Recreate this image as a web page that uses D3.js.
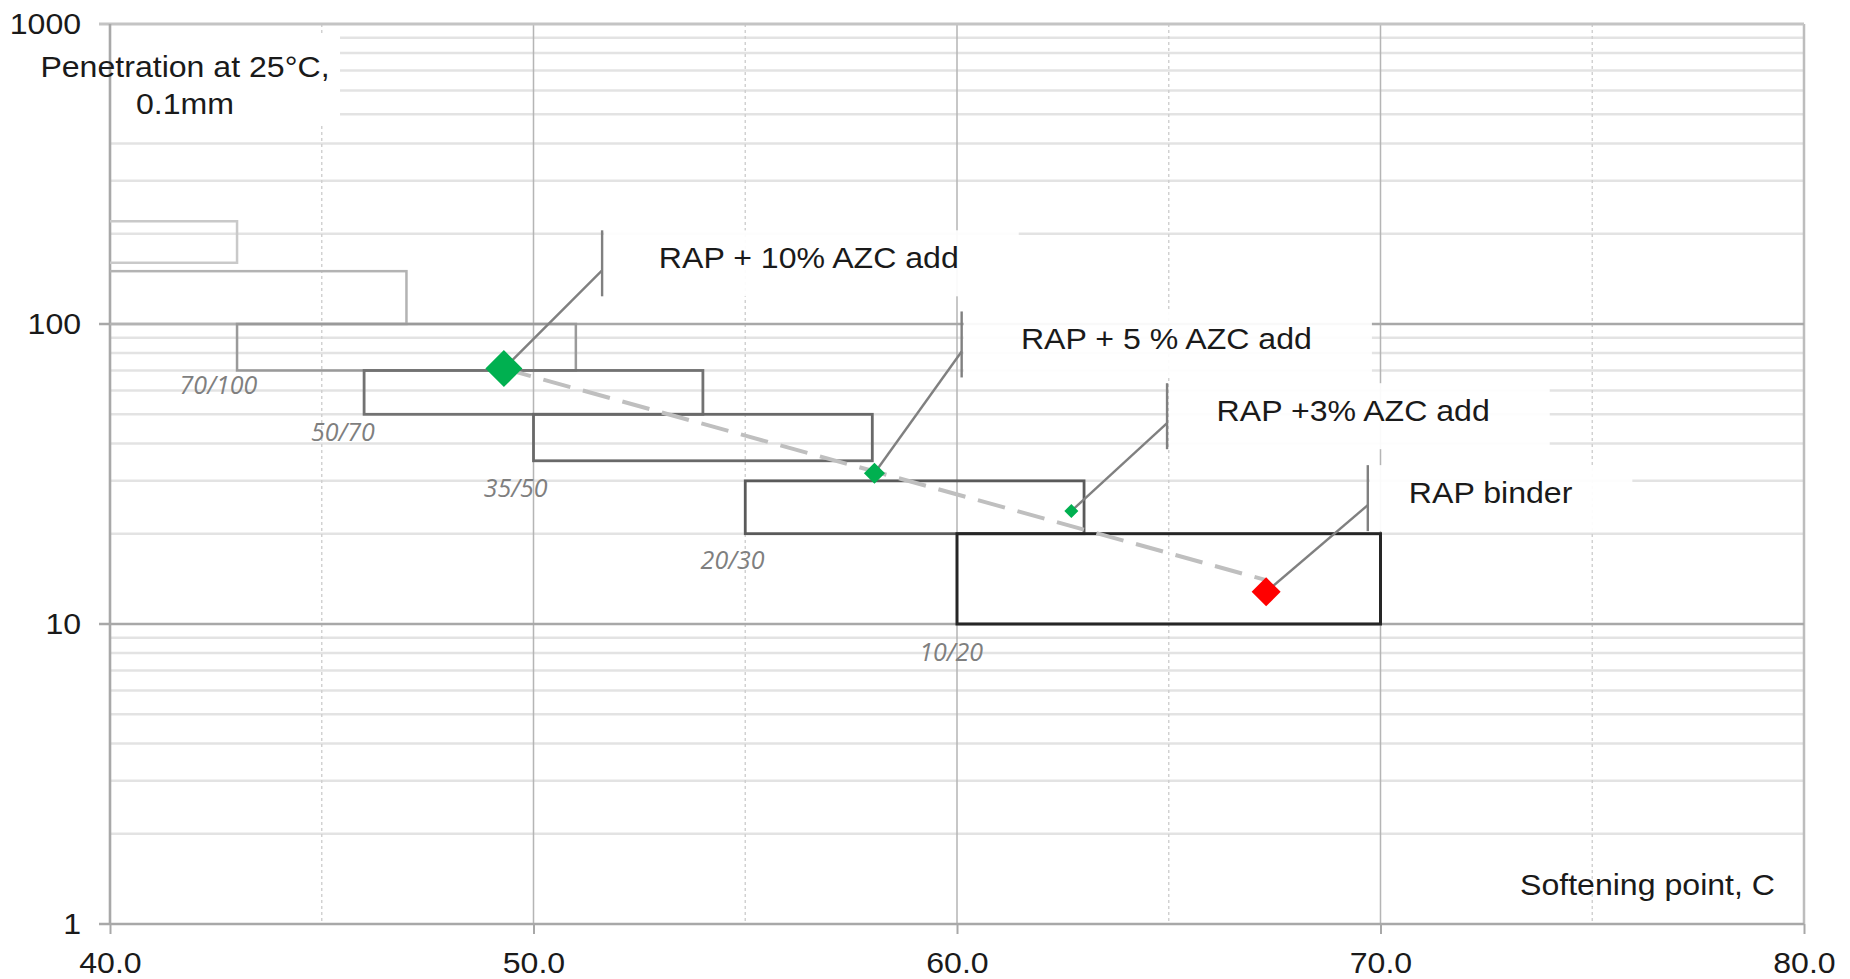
<!DOCTYPE html>
<html>
<head>
<meta charset="utf-8">
<script src="https://cdn.jsdelivr.net/npm/d3@7"></script>
<style>
  html, body { margin: 0; padding: 0; background: #ffffff; }
  svg { display: block; }
</style>
</head>
<body>
<svg id="chart" width="1850" height="979"></svg>
<script>
// Paving-grade bitumen windows (EN 12591): penetration range vs softening point range
const grades       = ["160/220", "100/150", "70/100", "50/70", "35/50", "20/30", "10/20"];
const gradePenLow  = [160, 100, 70, 50, 35, 20, 10];
const gradePenHigh = [220, 150, 100, 70, 50, 30, 20];
const gradeSpLow   = [35, 39, 43, 46, 50, 55, 60];
const gradeSpHigh  = [43, 47, 51, 54, 58, 63, 70];
// where each grade name sits (softening point, penetration)
const gradeLabelSp  = [null, null, 42.56, 45.5, 49.58, 54.7, 59.86];
const gradeLabelPen = [null, null, 63, 44, 28.7, 16.5, 8.1];

// Measured binders
const samples   = ["RAP + 10% AZC add", "RAP + 5 % AZC add", "RAP +3% AZC add", "RAP binder"];
const sampleSp  = [49.3, 58.05, 62.7, 67.3];
const samplePen = [71, 31.8, 23.8, 12.8];
// callout anchors for the sample names
const calloutSp     = [51.62, 60.11, 64.96, 69.70];
const calloutPen    = [151, 81, 46.7, 24.9];
const calloutTextSp = [52.96, 61.51, 66.13, 70.67];

// Trend from the 10% additive blend to the aged RAP binder
const trendSp  = [49.3, 67.3];
const trendPen = [71, 14];

// Axis ticks
const xTickValues = [40, 50, 60, 70, 80];
const yTickValues = [1, 10, 100, 1000];

// ---- styling ----
const gradeStroke = ["#c9c9c9", "#b3b3b3", "#9a9a9a", "#727272", "#696969", "#5a5a5a", "#262626"];
const gradeWidth  = [2.5, 2.5, 2.5, 2.8, 2.8, 2.8, 3];
const sampleFill  = ["#00b050", "#00b050", "#00b050", "#ff0000"];
const sampleDiag  = [37, 21, 14, 29];   // tip-to-tip marker size in px
const FONT = "'Liberation Sans', Arial, Helvetica, sans-serif";
const STRETCH = 1.07;

const svg = d3.select("#chart");
const W = 1850, H = 979;
const margin = { left: 110, right: 46, top: 24, bottom: 55 };

const x = d3.scaleLinear().domain([40, 80]).range([margin.left, W - margin.right]);
const y = d3.scaleLog().domain([1, 1000]).range([H - margin.bottom, margin.top]);

svg.append("rect").attr("width", W).attr("height", H).attr("fill", "#ffffff");

svg.append("defs").append("clipPath").attr("id", "plotClip")
  .append("rect")
  .attr("x", x(40)).attr("y", y(1000))
  .attr("width", x(80) - x(40)).attr("height", y(1) - y(1000));

// ---- gridlines ----
const grid = svg.append("g");
const yAll = y.ticks();
const isDecade = d => Math.abs(Math.log10(d) - Math.round(Math.log10(d))) < 1e-9;

grid.selectAll(".hminor").data(yAll.filter(d => !isDecade(d)))
  .join("line")
  .attr("x1", x(40)).attr("x2", x(80))
  .attr("y1", d => y(d)).attr("y2", d => y(d))
  .attr("stroke", "#e3e3e3").attr("stroke-width", 2.5);

const xAll = x.ticks(8);
grid.selectAll(".vminor").data(xAll.filter(d => d % 10 !== 0))
  .join("line")
  .attr("x1", d => x(d)).attr("x2", d => x(d))
  .attr("y1", y(1000)).attr("y2", y(1))
  .attr("stroke", "#cfcfcf").attr("stroke-width", 1.4)
  .attr("stroke-dasharray", "3,3");

grid.selectAll(".vmajor").data(xAll.filter(d => d % 10 === 0 && d > 40 && d < 80))
  .join("line")
  .attr("x1", d => x(d)).attr("x2", d => x(d))
  .attr("y1", y(1000)).attr("y2", y(1))
  .attr("stroke", "#b5b5b5").attr("stroke-width", 1.5);

// right border at 80
grid.append("line")
  .attr("x1", x(80)).attr("x2", x(80)).attr("y1", y(1000)).attr("y2", y(1))
  .attr("stroke", "#bdbdbd").attr("stroke-width", 2.5);

grid.selectAll(".hmajor").data(yTickValues)
  .join("line")
  .attr("x1", x(40) - 11).attr("x2", x(80))
  .attr("y1", d => y(d)).attr("y2", d => y(d))
  .attr("stroke", d => d === 1000 ? "#c4c4c4" : "#a8a8a8")
  .attr("stroke-width", d => d === 1000 ? 3 : 2.4);

// ---- label backgrounds (white boxes behind annotation text) ----
const boxes = svg.append("g");

// ---- axes ----
const xAxis = svg.append("g")
  .attr("transform", `translate(0,${y(1)})`)
  .call(d3.axisBottom(x).tickValues(xTickValues).tickFormat(d3.format(".1f"))
        .tickSize(10).tickPadding(17.5));
xAxis.select(".domain").remove();
xAxis.selectAll(".tick line").attr("stroke", "#a8a8a8").attr("stroke-width", 2);
xAxis.selectAll(".tick text")
  .attr("font-family", FONT).attr("font-size", 30).attr("fill", "#1a1a1a")
  .attr("transform", `scale(${STRETCH},1)`);

const yAxis = svg.append("g")
  .attr("transform", `translate(${x(40)},0)`)
  .call(d3.axisLeft(y).tickValues(yTickValues).tickFormat(d3.format("d"))
        .tickSize(0).tickPadding(27));
yAxis.select(".domain").remove();
yAxis.selectAll(".tick text")
  .attr("font-family", FONT).attr("font-size", 30).attr("fill", "#1a1a1a")
  .attr("transform", `scale(${STRETCH},1)`);

// left axis line
svg.append("line")
  .attr("x1", x(40)).attr("x2", x(40)).attr("y1", y(1000)).attr("y2", y(1))
  .attr("stroke", "#a8a8a8").attr("stroke-width", 2.6);

// ---- grade windows ----
const gradeData = grades.map((g, i) => ({
  name: g, pLo: gradePenLow[i], pHi: gradePenHigh[i],
  sLo: gradeSpLow[i], sHi: gradeSpHigh[i],
  lSp: gradeLabelSp[i], lPen: gradeLabelPen[i],
  stroke: gradeStroke[i], sw: gradeWidth[i]
}));

svg.append("g").attr("clip-path", "url(#plotClip)")
  .selectAll("rect").data(gradeData).join("rect")
  .attr("x", d => x(d.sLo)).attr("y", d => y(d.pHi))
  .attr("width", d => x(d.sHi) - x(d.sLo))
  .attr("height", d => y(d.pLo) - y(d.pHi))
  .attr("fill", "none")
  .attr("stroke", d => d.stroke).attr("stroke-width", d => d.sw);

svg.append("g").selectAll("text").data(gradeData.filter(d => d.lSp !== null)).join("text")
  .attr("transform", d => `translate(${x(d.lSp)},${y(d.lPen)})`)
  .attr("text-anchor", "middle").attr("dominant-baseline", "central")
  .attr("font-family", "'Open Sans', 'Liberation Sans', sans-serif")
  .attr("font-style", "italic").attr("font-size", 25)
  .attr("fill", "#7f7f7f")
  .text(d => d.name);

// ---- trend line ----
svg.append("path")
  .datum(trendSp.map((s, i) => [s, trendPen[i]]))
  .attr("d", d3.line().x(d => x(d[0])).y(d => y(d[1])))
  .attr("fill", "none").attr("stroke", "#bfbfbf")
  .attr("stroke-width", 4).attr("stroke-dasharray", "28,13");

// ---- samples with callouts ----
const sampleData = samples.map((n, i) => ({
  name: n, sp: sampleSp[i], pen: samplePen[i],
  cSp: calloutSp[i], cPen: calloutPen[i], tSp: calloutTextSp[i],
  fill: sampleFill[i], diag: sampleDiag[i]
}));

const callouts = svg.append("g");
const labelText = callouts.selectAll("text").data(sampleData).join("text")
  .attr("transform", d => `translate(${x(d.tSp)},${y(d.cPen) - 2}) scale(${STRETCH},1)`)
  .attr("font-family", FONT).attr("font-size", 30).attr("fill", "#1a1a1a")
  .text(d => d.name);

// white boxes sized from the rendered text
labelText.each(function (d) {
  const w = this.getComputedTextLength() * STRETCH;
  const x0 = x(d.cSp) + 2;
  boxes.append("rect")
    .attr("x", x0).attr("y", y(d.cPen) - 40)
    .attr("width", x(d.tSp) + w + 60 - x0).attr("height", 66)
    .attr("fill", "#ffffff").attr("opacity", 0.93);
});

// axis-title background
boxes.append("rect").attr("x", 38).attr("y", 33).attr("width", 302).attr("height", 90)
  .attr("fill", "#ffffff");

callouts.selectAll("line.leader").data(sampleData).join("line")
  .attr("class", "leader")
  .attr("x1", d => x(d.sp)).attr("y1", d => y(d.pen))
  .attr("x2", d => x(d.cSp)).attr("y2", d => y(d.cPen))
  .attr("stroke", "#808080").attr("stroke-width", 2.4);

callouts.selectAll("line.bar").data(sampleData).join("line")
  .attr("class", "bar")
  .attr("x1", d => x(d.cSp)).attr("x2", d => x(d.cSp))
  .attr("y1", d => y(d.cPen) - 40).attr("y2", d => y(d.cPen) + 26)
  .attr("stroke", "#808080").attr("stroke-width", 2.4);

svg.append("g").selectAll("path").data(sampleData).join("path")
  .attr("d", d => d3.symbol(d3.symbolSquare, (d.diag * d.diag) / 2)())
  .attr("transform", d => `translate(${x(d.sp)},${y(d.pen)}) rotate(45)`)
  .attr("fill", d => d.fill);

// ---- axis titles ----
const yTitle = svg.append("text")
  .attr("font-family", FONT).attr("font-size", 30).attr("fill", "#1a1a1a")
  .attr("text-anchor", "middle")
  .attr("transform", `translate(185,0) scale(${STRETCH},1)`);
yTitle.append("tspan").attr("x", 0).attr("y", 77).text("Penetration at 25°C,");
yTitle.append("tspan").attr("x", 0).attr("y", 114).text("0.1mm");

svg.append("text")
  .attr("font-family", FONT).attr("font-size", 30).attr("fill", "#1a1a1a")
  .attr("transform", `translate(1520,895) scale(${STRETCH},1)`)
  .text("Softening point, C");
</script>
</body>
</html>
